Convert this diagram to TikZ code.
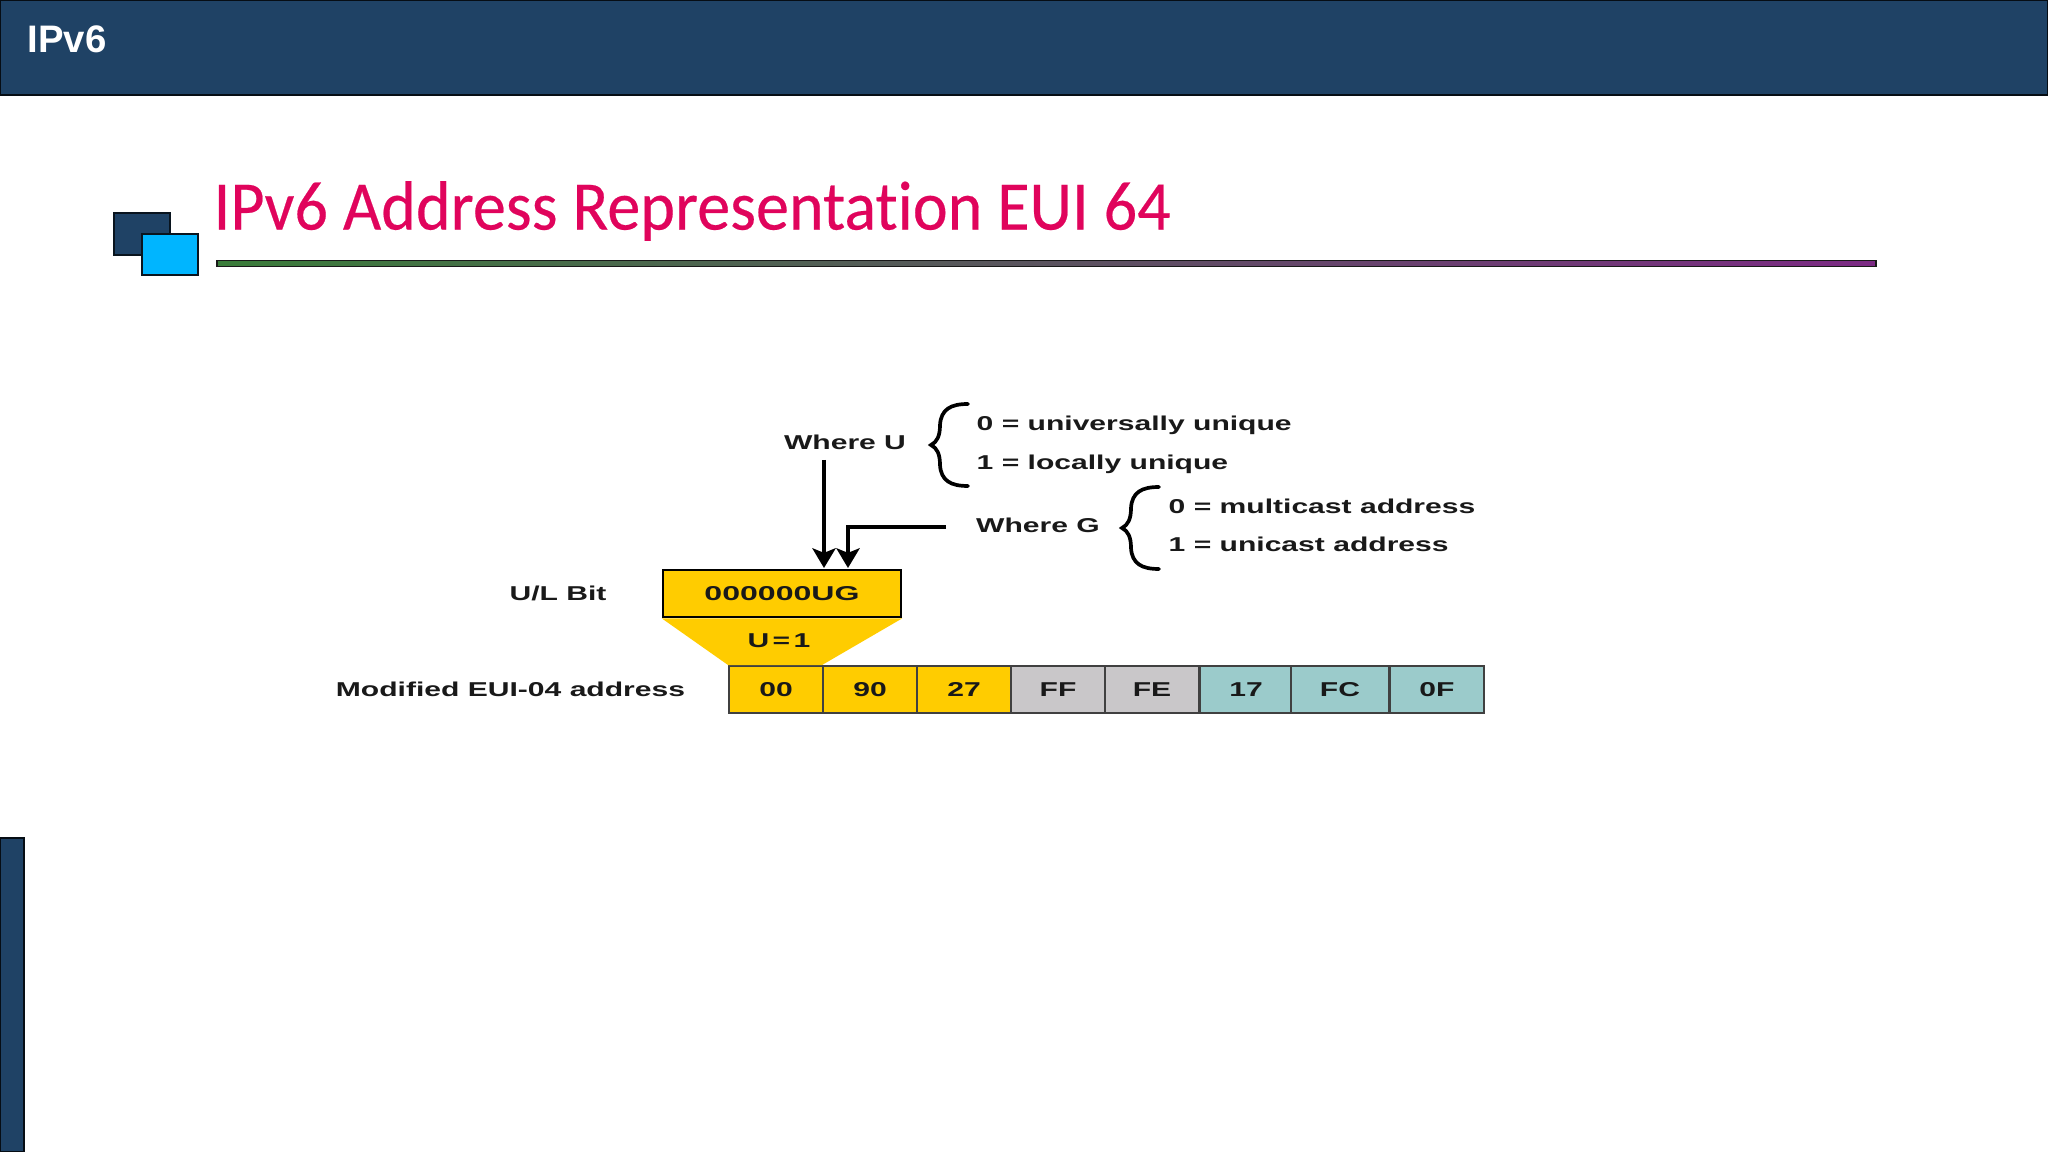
\documentclass[tikz,border=0pt]{standalone}
\usepackage{fontspec}
\setmainfont{Liberation Sans}
\newfontfamily\TitleFont[FakeStretch=.95,FakeBold=.3,RawFeature={-liga}]{Carlito}
\newfontfamily\FigFont[FakeStretch=1.5]{Liberation Sans}
\newfontfamily\BoxFont[FakeStretch=1.6]{Liberation Sans}
\usetikzlibrary{positioning,arrows.meta}
\definecolor{slateblue}{HTML}{1F4265}
\definecolor{skyblue}{HTML}{00B5FF}
\definecolor{titlered}{HTML}{E0045C}
\definecolor{euiyellow}{HTML}{FFCC00}
\definecolor{euigrey}{HTML}{C9C7C9}
\definecolor{euiteal}{HTML}{9BCBCB}
\definecolor{rulegreen}{HTML}{3A7D3A}
\definecolor{rulemid}{HTML}{666066}
\definecolor{rulepurple}{HTML}{7C2A84}
\newcommand{\drawCurly}[1]{
    \draw[line width=1.05pt, line cap=round, shift={(#1)}]
        (37,-41) .. controls (20,-41) and (10,-36) .. (9,-20)
        .. controls (9,-9) and (6,-3) .. (0,0)
        .. controls (6,3) and (9,9) .. (9,20)
        .. controls (10,36) and (20,41) .. (37,41);
}
\tikzset{
    figtext/.style={font=\FigFont\bfseries\fontsize{5.7}{7}\selectfont, inner sep=0pt, text height=4.07pt, text depth=0pt, text=black!90},
    cell/.style={figtext, draw=black!75, line width=.55pt, minimum height=47*0.01cm, text centered},
    bigarrow/.style={-{Stealth[length=5.6pt, width=6.6pt, inset=1.3pt]}, line width=1.35pt},
}
\begin{document}
\begin{tikzpicture}[x=0.01cm,y=-0.01cm]
    \useasboundingbox (0,0) rectangle (2048,1152);
    \fill[white] (0,0) rectangle (2048,1152);

    \draw[fill=slateblue, draw=black!80!slateblue, line width=.5pt] (0,0) rectangle (2048,95);
    \draw[fill=slateblue, draw=black!80!slateblue, line width=.5pt] (0,838) rectangle (24,1152);
    \node[anchor=west, inner sep=0pt, text=white, font=\bfseries\fontsize{10.9}{12}\selectfont] (header) at (27,39) {IPv6};

    \draw[fill=slateblue, draw=black!70!slateblue, line width=.5pt] (114,213) rectangle (170,255);
    \draw[fill=skyblue, draw=black!70!slateblue, line width=.5pt] (142,234) rectangle (198,275);
    \node[anchor=west, inner sep=0pt, text=titlered, font=\TitleFont\fontsize{19.8}{22}\selectfont] (title) at (213,211) {IPv6 Address Representation EUI 64};
    \draw[left color=rulegreen, middle color=rulemid, right color=rulepurple, draw=black!90, line width=.55pt] (217,260.5) rectangle (1876,266.5);

    \node[figtext] (whereU) at (845,442) {Where U};
    \node[figtext, anchor=west] (uni) at (976,423) {0 = universally unique};
    \node[figtext, anchor=west] (loc) at (976,462) {1 = locally unique};
    \drawCurly{931,445}

    \node[figtext] (whereG) at (1038,525) {Where G};
    \node[figtext, anchor=west] (multi) at (1168,506) {0 = multicast address};
    \node[figtext, anchor=west] (unic) at (1168,544) {1 = unicast address};
    \drawCurly{1122,528}

    \node[figtext, font=\BoxFont\bfseries\fontsize{5.7}{7}\selectfont, draw=black, fill=euiyellow, line width=.75pt, minimum width=238*0.01cm, minimum height=47*0.01cm] (ulbox) at (782,593.5) {000000UG};
    \node[figtext] (ulbit) at (558,593) {U/L Bit};

    \foreach \cname/\cx/\cw/\ctxt/\ccol in {
        c1/776/94/00/euiyellow, c2/870/94/90/euiyellow, c3/964/94/27/euiyellow,
        c4/1058/94/FF/euigrey, c5/1152/94/FE/euigrey,
        c6/1246/92/17/euiteal, c7/1340/98/FC/euiteal, c8/1437/94/0F/euiteal} {
        \node[cell, fill=\ccol, minimum width=\cw*0.01cm] (\cname) at (\cx,689.5) {\ctxt};
    }
    \node[figtext] (euilabel) at (510.5,689) {Modified EUI-04 address};

    \fill[euiyellow] (ulbox.south west) -- (ulbox.south east) -- (c2.north west) -- (c1.north west) -- cycle;
    \node[figtext] (uone) at (779,640) {U\,=\,1};

    \coordinate (Ustart) at (824,460);
    \coordinate (Uhead) at (824,568);
    \coordinate (Ghead) at (848,568);
    \coordinate (Gstart) at (946,527);
    \draw[bigarrow] (Ustart) -- (Uhead);
    \draw[bigarrow, line width=1.05pt] (Gstart) -- (Gstart -| Ghead) -- (Ghead);
\end{tikzpicture}
\end{document}
